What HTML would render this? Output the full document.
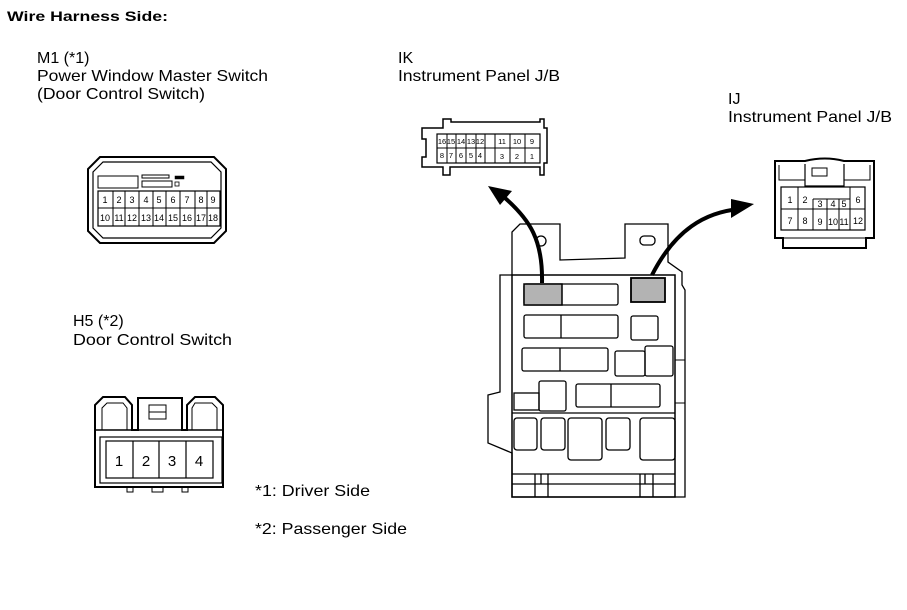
<!DOCTYPE html>
<html><head><meta charset="utf-8"><style>
html,body{margin:0;padding:0;background:#fff;}
svg{display:block;}
text{font-family:"Liberation Sans",Arial,sans-serif;fill:#000;}
</style></head><body>
<svg width="907" height="610" viewBox="0 0 907 610" xmlns="http://www.w3.org/2000/svg">
<g font-size="16">
<text x="7" y="21" font-size="14" font-weight="bold" textLength="161" lengthAdjust="spacingAndGlyphs">Wire Harness Side:</text>
<text x="37" y="63">M1 (*1)</text>
<text x="37" y="81" textLength="231" lengthAdjust="spacingAndGlyphs">Power Window Master Switch</text>
<text x="37" y="99" textLength="168" lengthAdjust="spacingAndGlyphs">(Door Control Switch)</text>
<text x="398" y="63">IK</text>
<text x="398" y="81" textLength="162" lengthAdjust="spacingAndGlyphs">Instrument Panel J/B</text>
<text x="728" y="104">IJ</text>
<text x="728" y="122" textLength="164" lengthAdjust="spacingAndGlyphs">Instrument Panel J/B</text>
<text x="73" y="326">H5 (*2)</text>
<text x="73" y="345" textLength="159" lengthAdjust="spacingAndGlyphs">Door Control Switch</text>
<text x="255" y="496" textLength="115" lengthAdjust="spacingAndGlyphs">*1: Driver Side</text>
<text x="255" y="534" textLength="152" lengthAdjust="spacingAndGlyphs">*2: Passenger Side</text>
</g>

<!-- M1 connector -->
<g fill="none" stroke="#000" stroke-width="1.5">
<path d="M100 157 H214 L226 169 V231 L214 243 H100 L88 231 V169 Z" stroke-width="2"/>
<path d="M103 162 H211 L221 172 V228 L211 238 H103 L93 228 V172 Z" stroke-width="1.2"/>
<rect x="98" y="176" width="40" height="12" stroke-width="1"/>
<rect x="142" y="175" width="27" height="3" stroke-width="1"/>
<rect x="142" y="181" width="30" height="6" stroke-width="1"/>
<rect x="175" y="176" width="9" height="3" fill="#000" stroke-width="0.5"/>
<rect x="175" y="182" width="4" height="4" stroke-width="0.8"/>
<rect x="98" y="191" width="122" height="35" stroke-width="1.2"/>
<line x1="98" y1="208" x2="220" y2="208" stroke-width="1"/>
<path d="M113 191V226M125 191V226M139 191V226M153 191V226M166 191V226M180 191V226M195 191V226M207 191V226" stroke-width="1"/>
</g>
<g font-size="9" text-anchor="middle">
<text x="105" y="203">1</text><text x="119" y="203">2</text><text x="132" y="203">3</text><text x="146" y="203">4</text><text x="159" y="203">5</text><text x="173" y="203">6</text><text x="187" y="203">7</text><text x="201" y="203">8</text><text x="213" y="203">9</text>
<text x="105" y="221">10</text><text x="119" y="221">11</text><text x="132" y="221">12</text><text x="146" y="221">13</text><text x="159" y="221">14</text><text x="173" y="221">15</text><text x="187" y="221">16</text><text x="201" y="221">17</text><text x="213" y="221">18</text>
</g>

<!-- IK connector -->
<g fill="none" stroke="#000" stroke-width="1.5">
<path d="M422 128 H443 V119 H451 V122 H540 V119 H544 V128 H547 V163 H544 V175 H540 V167 H450 V175 H443 V167 H422 V157 H426 V139 H422 Z"/>
<rect x="437" y="134" width="103" height="29" stroke-width="1.2"/>
<line x1="437" y1="148" x2="540" y2="148" stroke-width="1"/>
<path d="M447 134V163M456 134V163M466 134V163M476 134V163M485 134V163M495 134V163M510 134V163M525 134V163" stroke-width="1"/>
</g>
<g font-size="7.5" text-anchor="middle">
<text x="442" y="144">16</text><text x="451" y="144">15</text><text x="461" y="144">14</text><text x="471" y="144">13</text><text x="480" y="144">12</text><text x="502" y="144">11</text><text x="517" y="144">10</text><text x="532" y="144">9</text>
<text x="442" y="158">8</text><text x="451" y="158">7</text><text x="461" y="158">6</text><text x="471" y="158">5</text><text x="480" y="158">4</text><text x="502" y="159">3</text><text x="517" y="159">2</text><text x="532" y="159">1</text>
</g>

<!-- IJ connector -->
<g fill="none" stroke="#000" stroke-width="1.5">
<path d="M775 161 H805 Q825 156 844 161 H874 V238 H866 V248 H783 V238 H775 Z" stroke-width="2"/>
<path d="M779 165 V180 H805 M870 165 V180 H844" stroke-width="1"/>
<path d="M805 164 V186 H844 V164" stroke-width="1.2"/>
<rect x="812" y="168" width="15" height="8" stroke-width="1"/>
<rect x="781" y="187" width="84" height="43" stroke-width="1.2"/>
<path d="M781 209 H865 M798 187V230 M813 199V230 M827 199V230 M839 199V230 M850 187V230 M813 199 H850" stroke-width="1"/>
<line x1="779" y1="238" x2="870" y2="238" stroke-width="1"/>
</g>
<g font-size="9" text-anchor="middle">
<text x="790" y="203">1</text><text x="805" y="203">2</text><text x="820" y="207">3</text><text x="833" y="207">4</text><text x="844" y="207">5</text><text x="858" y="203">6</text>
<text x="790" y="224">7</text><text x="805" y="224">8</text><text x="820" y="225">9</text><text x="833" y="225">10</text><text x="844" y="225">11</text><text x="858" y="224">12</text>
</g>

<!-- J/B -->
<g fill="none" stroke="#000" stroke-width="1.3">
<path d="M512 275 V232 L520 224 H560 V260 L625 258 V224 H668 V262 L682 272 V285 L685 290 V497 H512 V453 L488 443 V395 L500 392 V275 Z"/>
<rect x="512" y="275" width="163" height="222" stroke-width="1.5"/>
<ellipse cx="541" cy="241" rx="5" ry="5"/>
<rect x="640" y="236" width="15" height="9" rx="4"/>
<path d="M675 360 H685 M675 403 H685" stroke-width="1"/>
<rect x="524" y="284" width="94" height="21" rx="2"/>
<rect x="524" y="284" width="38" height="21" fill="#b3b3b3" stroke-width="1.5"/>
<rect x="631" y="278" width="34" height="24" fill="#b3b3b3" stroke-width="1.8"/>
<rect x="524" y="315" width="94" height="23" rx="2"/>
<line x1="561" y1="315" x2="561" y2="338"/>
<rect x="522" y="348" width="86" height="23" rx="2"/>
<line x1="560" y1="348" x2="560" y2="371"/>
<rect x="576" y="384" width="84" height="23" rx="2"/>
<line x1="611" y1="384" x2="611" y2="407"/>
<rect x="631" y="316" width="27" height="24" rx="2"/>
<rect x="615" y="351" width="30" height="25" rx="2"/>
<rect x="645" y="346" width="28" height="30" rx="2"/>
<rect x="514" y="393" width="25" height="17"/>
<rect x="539" y="381" width="27" height="30" rx="2"/>
<line x1="512" y1="413" x2="675" y2="413"/>
<rect x="514" y="418" width="23" height="32" rx="3"/>
<rect x="541" y="418" width="24" height="32" rx="3"/>
<rect x="568" y="418" width="34" height="42" rx="3"/>
<rect x="606" y="418" width="24" height="32" rx="3"/>
<rect x="640" y="418" width="35" height="42" rx="3"/>
<line x1="512" y1="474" x2="675" y2="474"/>
<path d="M535 474 V497 M541 474 V484 M548 474 V497 M640 474 V497 M645 474 V484 M653 474 V497 M512 484 H675"/>
</g>
<!-- arrows -->
<g fill="none" stroke="#000" stroke-width="4">
<path d="M542 283 C543 240 530 220 505 198"/>
<path d="M652 275 C675 230 705 212 740 209"/>
</g>
<polygon points="488,186 512,191 500,205" fill="#000"/>
<polygon points="754,204 731,199 731,218" fill="#000"/>

<!-- H5 -->
<g fill="none" stroke="#000" stroke-width="1.5">
<path d="M95 487 V405 L103 397 H125 L132 405 V430 H138 V398 H182 V430 H187 V405 L195 397 H215 L223 405 V487 Z" stroke-width="2"/>
<path d="M102 430 V408 L107 403 H123 L127 408 V430 M217 430 V408 L212 403 H195 L192 408 V430" stroke-width="1"/>
<line x1="95" y1="430" x2="223" y2="430"/>
<rect x="149" y="405" width="17" height="14" stroke-width="1"/>
<line x1="149" y1="412" x2="166" y2="412" stroke-width="1"/>
<rect x="100" y="437" width="122" height="46" stroke-width="1.2"/>
<rect x="106" y="441" width="107" height="37" stroke-width="1.2"/>
<path d="M133 441V478 M159 441V478 M186 441V478" stroke-width="1.2"/>
<path d="M127 487 V492 H133 V487 M152 487 V492 H163 V487 M182 487 V492 H188 V487" stroke-width="1"/>
</g>
<g font-size="15" text-anchor="middle">
<text x="119" y="466">1</text><text x="146" y="466">2</text><text x="172" y="466">3</text><text x="199" y="466">4</text>
</g>
</svg>
</body></html>
